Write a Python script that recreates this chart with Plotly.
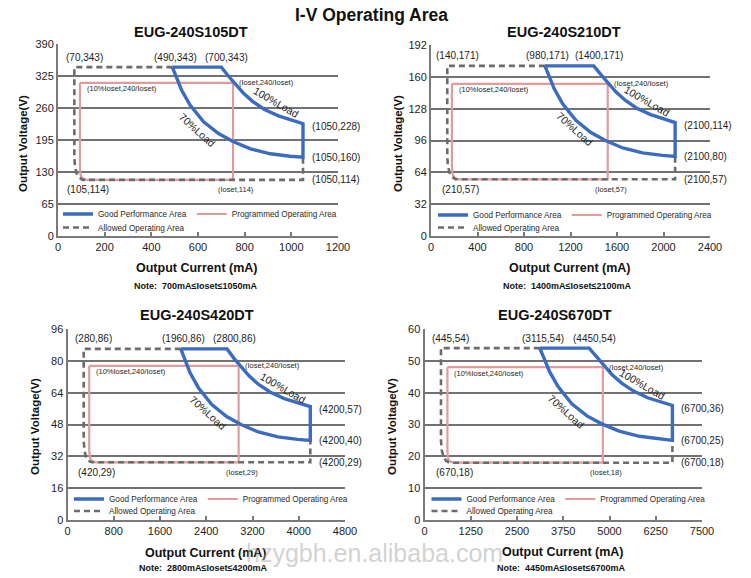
import plotly.graph_objects as go

W, H = 751, 578
FONT = "Liberation Sans, Arial, sans-serif"

# ---------------- data ----------------
main_title = "I-V Operating Area"
models = ["EUG-240S105DT", "EUG-240S210DT", "EUG-240S420DT", "EUG-240S670DT"]
notes = ["Note:  700mA\u2264Ioset\u22641050mA", "Note:  1400mA\u2264Ioset\u22642100mA",
         "Note:  2800mA\u2264Ioset\u22644200mA", "Note:  4450mA\u2264Ioset\u22646700mA"]
series_names = ["Good Performance Area", "Programmed Operating Area", "Allowed Operating Area"]

x_ticks_1 = [0, 200, 400, 600, 800, 1000, 1200]
y_ticks_1 = [0, 65, 130, 195, 260, 325, 390]
x_ticks_2 = [0, 400, 800, 1200, 1600, 2000, 2400]
y_ticks_2 = [0, 32, 64, 96, 128, 160, 192]
x_ticks_3 = [0, 800, 1600, 2400, 3200, 4000, 4800]
y_ticks_3 = [0, 16, 32, 48, 64, 80, 96]
x_ticks_4 = [0, 1250, 2500, 3750, 5000, 6250, 7500]
y_ticks_4 = [0, 10, 20, 30, 40, 50, 60]

# EUG-240S105DT
good_I_1 = [490, 700, 730, 760, 795, 835, 885, 945, 1000, 1050, 1050, 995, 910, 825, 750, 688, 624, 566, 530, 507, 490]
good_V_1 = [343, 343, 325, 308, 290, 273, 257, 244, 235, 228, 160, 162, 167, 177, 192, 208, 232, 266, 296, 322, 343]
prog_I_1 = [94, 750, 750, 123, 110, 101, 96, 94, 94]
prog_V_1 = [311, 311, 114, 114, 116, 119, 126, 140, 311]
allow_I_1 = [490, 70, 70, 73, 80, 90, 105, 1050, 1050]
allow_V_1 = [343, 343, 160, 140, 127, 119, 114, 114, 160]

# EUG-240S210DT
good_I_2 = [980, 1400, 1460, 1520, 1590, 1670, 1770, 1890, 2000, 2100, 2100, 1990, 1820, 1650, 1500, 1376, 1248, 1132, 1060, 1014, 980]
good_V_2 = [171, 171, 162.5, 154, 145, 136.5, 128.5, 122, 117.5, 114, 80, 81, 83.5, 88.5, 96, 104, 116, 133, 148, 161, 171]
prog_I_2 = [180, 1520, 1520, 240, 214, 196, 184, 180, 180]
prog_V_2 = [153, 153, 57, 57, 58, 59.5, 63, 70, 153]
allow_I_2 = [980, 140, 140, 146, 160, 180, 210, 2100, 2100]
allow_V_2 = [171, 171, 80, 70, 63.5, 59.5, 57, 57, 80]

# EUG-240S420DT
good_I_3 = [1960, 2760, 2880, 3000, 3140, 3300, 3510, 3750, 3980, 4200, 4200, 3980, 3640, 3300, 3000, 2752, 2496, 2264, 2120, 2028, 1960]
good_V_3 = [86, 86, 81.25, 77, 72.5, 68.25, 64.25, 61, 58.75, 57, 40, 40.5, 41.75, 44.25, 48, 52, 58, 66.5, 74, 80.5, 86]
prog_I_3 = [376, 2960, 2960, 492, 440, 404, 384, 376, 376]
prog_V_3 = [77.5, 77.5, 29, 29, 29.5, 30.25, 32, 35, 77.5]
allow_I_3 = [1960, 280, 280, 292, 320, 360, 420, 4200, 4200]
allow_V_3 = [86, 86, 40, 35, 31.75, 29.75, 29, 29, 40]

# EUG-240S670DT
good_I_4 = [3115, 4450, 4660, 4850, 5070, 5330, 5650, 6030, 6380, 6700, 6700, 6350, 5810, 5260, 4790, 4390, 3980, 3610, 3380, 3235, 3115]
good_V_4 = [54, 54, 51.2, 48.5, 45.6, 43, 40.5, 38.4, 37, 36, 25, 25.5, 26.3, 27.9, 30.2, 32.7, 36.5, 41.9, 46.6, 50.7, 54]
prog_I_4 = [620, 4820, 4820, 790, 705, 650, 630, 620, 620]
prog_V_4 = [48, 48, 18, 18, 18.3, 18.8, 19.8, 22, 48]
allow_I_4 = [3115, 445, 445, 466, 510, 575, 670, 6700, 6700]
allow_V_4 = [54, 54, 25, 22, 20, 18.7, 18, 18, 25]

# labelled key points: top-left, top-mid, top-right, right-high, right-mid, right-low, bottom-left
key_pts_1 = [(70, 343), (490, 343), (700, 343), (1050, 228), (1050, 160), (1050, 114), (105, 114)]
key_pts_2 = [(140, 171), (980, 171), (1400, 171), (2100, 114), (2100, 80), (2100, 57), (210, 57)]
key_pts_3 = [(280, 86), (1960, 86), (2800, 86), (4200, 57), (4200, 40), (4200, 29), (420, 29)]
key_pts_4 = [(445, 54), (3115, 54), (4450, 54), (6700, 36), (6700, 25), (6700, 18), (670, 18)]
bottom_iset_text = ["(Ioset,114)", "(Ioset,57)", "(Ioset,29)", "(Ioset,18)"]
load100_pos = [(934, 272), (1860, 136), (3734, 66.5), (5880, 42.6)]
load70_pos = [(597, 215), (1240, 108), (2440, 54), (3850, 34)]

# ---------------- layout geometry (pixels) ----------------
def px_x(p):
    return p / W

def px_y(p):
    return 1 - p / H

panels = [
    dict(good=(good_I_1, good_V_1), prog=(prog_I_1, prog_V_1), allow=(allow_I_1, allow_V_1),
         xt=x_ticks_1, yt=y_ticks_1, keys=key_pts_1,
         xd=(58, 338), yd=(236, 44), title=(191, 32), ytitle=(23, 144), xtitle=(197, 268), note=(195, 286),
         leg_x=63, leg_y1=214, leg_y2=227.5),
    dict(good=(good_I_2, good_V_2), prog=(prog_I_2, prog_V_2), allow=(allow_I_2, allow_V_2),
         xt=x_ticks_2, yt=y_ticks_2, keys=key_pts_2,
         xd=(431, 710), yd=(236, 45), title=(564, 32), ytitle=(398, 144), xtitle=(570, 268), note=(567, 286),
         leg_x=438, leg_y1=215, leg_y2=227.5),
    dict(good=(good_I_3, good_V_3), prog=(prog_I_3, prog_V_3), allow=(allow_I_3, allow_V_3),
         xt=x_ticks_3, yt=y_ticks_3, keys=key_pts_3,
         xd=(67.5, 345), yd=(520, 329), title=(197, 315), ytitle=(35, 427), xtitle=(206, 553), note=(203, 568),
         leg_x=74, leg_y1=499, leg_y2=511),
    dict(good=(good_I_4, good_V_4), prog=(prog_I_4, prog_V_4), allow=(allow_I_4, allow_V_4),
         xt=x_ticks_4, yt=y_ticks_4, keys=key_pts_4,
         xd=(424.5, 702), yd=(520, 329), title=(555, 315), ytitle=(392, 427), xtitle=(563, 552), note=(561, 568),
         leg_x=431.5, leg_y1=499, leg_y2=511),
]

BLUE = "#3b6cbf"
PINK = "#e09c9c"
GRAY = "#6c6c6c"
GRID = "#727272"
TXT = "#1e1e1e"

fig = go.Figure()
annotations = []
layout = dict(width=W, height=H, margin=dict(l=0, r=0, t=0, b=0, pad=0, autoexpand=False),
              paper_bgcolor="white", plot_bgcolor="white",
              font=dict(family=FONT, color=TXT), showlegend=True)


def paper_text(text, pos, size, **kw):
    d = dict(text=text, x=px_x(pos[0]), y=px_y(pos[1]), xref="paper", yref="paper",
             xanchor="center", yanchor="middle", showarrow=False, font=dict(size=size, color="#111"))
    d.update(kw)
    annotations.append(d)


for k, p in enumerate(panels):
    n = k + 1
    sfx = "" if n == 1 else str(n)
    xa, ya = "x" + sfx, "y" + sfx
    legA = "legend" + ("" if n == 1 else str(2 * n - 1))
    legB = "legend" + str(2 * n)

    fig.add_trace(go.Scatter(x=p["prog"][0], y=p["prog"][1], mode="lines", name=series_names[1],
                             line=dict(color=PINK, width=2.2), xaxis=xa, yaxis=ya,
                             legend=legA, legendrank=2, hoverinfo="skip"))
    fig.add_trace(go.Scatter(x=p["allow"][0], y=p["allow"][1], mode="lines", name=series_names[2],
                             line=dict(color=GRAY, width=2.6, dash="6px,4px"), xaxis=xa, yaxis=ya,
                             legend=legB, hoverinfo="skip"))
    fig.add_trace(go.Scatter(x=p["good"][0], y=p["good"][1], mode="lines", name=series_names[0],
                             line=dict(color=BLUE, width=3.4), xaxis=xa, yaxis=ya,
                             legend=legA, legendrank=1, hoverinfo="skip"))

    xt, yt = p["xt"], p["yt"]
    layout["xaxis" + sfx] = dict(domain=[px_x(p["xd"][0]), px_x(p["xd"][1])], range=[xt[0], xt[-1]],
                                 anchor=ya, tickvals=xt, ticktext=[str(v) for v in xt], automargin=False,
                                 showgrid=False, zeroline=False, showline=True, linecolor="#7a7a7a",
                                 linewidth=2, ticks="inside", ticklen=4, tickwidth=1.5, tickcolor="#7a7a7a",
                                 tickfont=dict(size=11, color=TXT), fixedrange=True)
    layout["yaxis" + sfx] = dict(domain=[px_y(p["yd"][0]), px_y(p["yd"][1])], range=[yt[0], yt[-1]],
                                 anchor=xa, tickvals=yt, ticktext=[str(v) for v in yt], automargin=False,
                                 showgrid=True, gridcolor=GRID, gridwidth=1.6, zeroline=False,
                                 showline=True, linecolor="#7a7a7a", linewidth=2, ticks="",
                                 tickfont=dict(size=11, color=TXT), fixedrange=True)

    # legends: row 1 (two entries), row 2 (one entry)
    for leg, yy in ((legA, p["leg_y1"]), (legB, p["leg_y2"])):
        layout[leg] = dict(orientation="h", x=px_x(p["leg_x"] - 5), xanchor="left",
                           y=px_y(yy), yanchor="middle",
                           bgcolor="rgba(0,0,0,0)", borderwidth=0, font=dict(size=8.2, color="#2a2a2a"),
                           itemclick=False, itemdoubleclick=False)

    # titles / axis titles / note
    paper_text("<b>%s</b>" % models[k], p["title"], 14.5)
    paper_text("<b>Output Voltage(V)</b>", p["ytitle"], 11.5, textangle=-90)
    paper_text("<b>Output Current (mA)</b>", p["xtitle"], 12.5)
    paper_text("<b>%s</b>" % notes[k], p["note"], 9)

    # point labels
    keys = p["keys"]
    lab = dict(xref=xa, yref=ya, showarrow=False, font=dict(size=10, color=TXT))

    def kl(pt, **kw):
        d = dict(lab)
        d.update(text="(%s,%s)" % pt, x=pt[0], y=pt[1])
        d.update(kw)
        annotations.append(d)
    kl(keys[0], xshift=10, yshift=10)
    kl(keys[1], xshift=3, yshift=10)
    kl(keys[2], xshift=5, yshift=10)
    kl(keys[3], xanchor="left", xshift=7, yshift=-3)
    kl(keys[4], xanchor="left", xshift=7, yshift=0)
    kl(keys[5], xanchor="left", xshift=7, yshift=0)
    kl(keys[6], xshift=5, yshift=-10)

    pI, pV = p["prog"]
    small = dict(size=7.5, color=TXT)
    annotations.append(dict(text=bottom_iset_text[k], x=pI[1], y=pV[2], xref=xa, yref=ya, showarrow=False,
                            xshift=3, yshift=-10, font=small))
    annotations.append(dict(text="(Ioset,240/Ioset)", x=pI[1], y=pV[1], xref=xa, yref=ya, showarrow=False,
                            xanchor="left", xshift=4, yshift=0, font=small))
    annotations.append(dict(text="(10%Ioset,240/Ioset)", x=pI[0], y=pV[0], xref=xa, yref=ya, showarrow=False,
                            xanchor="left", xshift=5, yshift=-6, font=small))
    annotations.append(dict(text="100%Load", x=load100_pos[k][0], y=load100_pos[k][1], xref=xa, yref=ya,
                            showarrow=False, textangle=30, font=dict(size=10.5, color=TXT)))
    annotations.append(dict(text="70%Load", x=load70_pos[k][0], y=load70_pos[k][1], xref=xa, yref=ya,
                            showarrow=False, textangle=42, font=dict(size=10.5, color=TXT)))

paper_text("<b>%s</b>" % main_title, (371, 15), 17.5)
paper_text("hzygbh.en.alibaba.com", (374, 553), 24, font=dict(size=25, color="rgba(165,165,165,0.5)"))

layout["annotations"] = annotations
fig.update_layout(**layout)
fig.write_html("out.html", config=dict(displayModeBar=False))
